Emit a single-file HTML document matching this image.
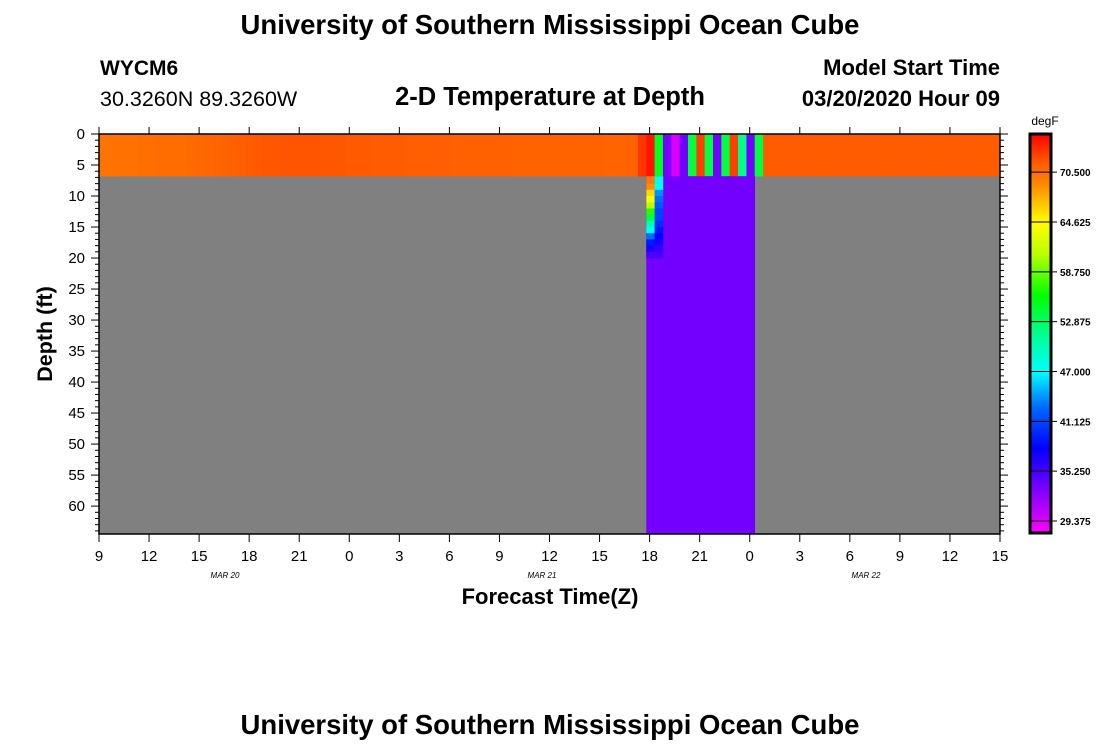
<!DOCTYPE html>
<html><head><meta charset="utf-8"><style>
html,body{margin:0;padding:0;background:#fff;width:1100px;height:750px;overflow:hidden}
svg text{font-family:"Liberation Sans",Arial,sans-serif}
</style></head><body>
<svg id="chart" width="1100" height="750" viewBox="0 0 1100 750" xmlns="http://www.w3.org/2000/svg">
<text x="550" y="34" text-anchor="middle" font-size="27.5" font-weight="bold">University of Southern Mississippi Ocean Cube</text>
<text x="100" y="75" font-size="21" font-weight="bold">WYCM6</text>
<text x="100" y="106" font-size="21.5">30.3260N 89.3260W</text>
<text x="550" y="105" text-anchor="middle" font-size="25.5" font-weight="bold">2-D Temperature at Depth</text>
<text x="1000" y="75" text-anchor="end" font-size="22" font-weight="bold">Model Start Time</text>
<text x="1000" y="106" text-anchor="end" font-size="22" font-weight="bold">03/20/2020 Hour 09</text>
<g id="cells"></g>
<g id="axes"></g>
<text transform="translate(52,334) rotate(-90)" text-anchor="middle" font-size="21.5" font-weight="bold">Depth (ft)</text>
<text x="550" y="604" text-anchor="middle" font-size="22" font-weight="bold">Forecast Time(Z)</text>
<text x="225" y="578" text-anchor="middle" font-size="8" font-style="italic" font-family="Liberation Serif">MAR  20</text>
<text x="542" y="578" text-anchor="middle" font-size="8" font-style="italic" font-family="Liberation Serif">MAR  21</text>
<text x="866" y="578" text-anchor="middle" font-size="8" font-style="italic" font-family="Liberation Serif">MAR  22</text>
<g id="cbar"></g>
<text x="1045" y="125" text-anchor="middle" font-size="12">degF</text>
<text x="550" y="734" text-anchor="middle" font-size="27.5" font-weight="bold">University of Southern Mississippi Ocean Cube</text>
</svg>
<script>
const xTickLabels=["9","12","15","18","21","0","3","6","9","12","15","18","21","0","3","6","9","12","15"];
const yTickLabels=[0,5,10,15,20,25,30,35,40,45,50,55,60];
const cbarLabels=[70.5,64.625,58.75,52.875,47.0,41.125,35.25,29.375];
// surface layer temperature per half-hour column
const surfaceTemps=[70.4,70.4,70.4,70.5,70.5,70.6,70.6,70.7,70.7,70.8,70.8,70.9,71.0,71.1,71.2,71.3,71.4,71.5,71.6,71.7,71.8,71.8,71.9,71.9,71.9,71.9,71.9,71.8,71.8,71.8,71.7,71.7,71.7,71.6,71.6,71.6,71.6,71.5,71.5,71.5,71.5,71.5,71.5,71.4,71.4,71.4,71.4,71.4,71.4,71.4,71.3,71.3,71.3,71.3,71.3,71.3,71.3,71.3,71.3,71.3,71.3,71.2,71.2,71.2,71.2,73.0,74.2,55.0,33.5,29.5,33.5,54.0,72.6,54.0,33.5,54.0,72.6,51.5,33.5,54.0,71.6,71.6,71.6,71.6,71.6,71.6,71.6,71.6,71.6,71.6,71.6,71.6,71.6,71.6,71.6,71.6,71.6,71.6,71.6,71.6,71.6,71.6,71.6,71.6,71.6,71.6,71.6,71.6,71.6];
const wetCols=[66,67,68,69,70,71,72,73,74,75,76,77,78];
const deepTemp=33.5;
const profileDepths=[7,8,9,10,11,12,13,14,15,16,17,18,19];
const profileCol66=[70,69,66,64,61,57,54,50,47,43,39,37,35];
const profileCol67=[48,47,44,43,42,41,41,40,39,38,37,36,35];
const surfaceDepth=6.8, maxDepth=64.5, hours=54, colStart=0.3, colW=0.5;

const NS="http://www.w3.org/2000/svg";
const X0=99,X1=1000,Y0=134,Y1=534;
const xs=h=>X0+h*(X1-X0)/hours;
const ys=d=>Y0+d*(Y1-Y0)/maxDepth;
const stops=[[28,[255,0,255]],[33,[128,0,255]],[38,[0,0,255]],[43,[0,110,255]],[47,[0,255,255]],[52,[0,255,128]],[56,[0,255,0]],[61,[190,255,0]],[64.6,[255,255,0]],[69,[255,140,0]],[71.5,[255,95,0]],[75,[255,0,0]]];
function col(t){if(t<=stops[0][0])return rgb(stops[0][1]);for(let i=1;i<stops.length;i++){if(t<=stops[i][0]){const a=stops[i-1],b=stops[i],f=(t-a[0])/(b[0]-a[0]);return rgb(a[1].map((v,k)=>v+(b[1][k]-v)*f));}}return rgb(stops[stops.length-1][1]);}
function rgb(c){return "rgb("+c.map(Math.round).join(",")+")";}
function mk(tag,attrs,parent){const e=document.createElementNS(NS,tag);for(const k in attrs)e.setAttribute(k,attrs[k]);parent.appendChild(e);return e;}
const cells=document.getElementById("cells");
let r=mk("rect",{x:X0,y:Y0,width:X1-X0,height:Y1-Y0,fill:"#808080"},cells);


function cell(h0,h1,d0,d1,t){
  const a=Math.max(X0,xs(h0)),b=Math.min(X1,xs(h1));if(b<=a)return;
  const e=mk("rect",{x:a,y:ys(d0),width:b-a+0.3,height:ys(d1)-ys(d0)+0.3,fill:col(t)},cells);
  
  
}
surfaceTemps.forEach((t,i)=>cell(colStart+(i-1)*colW,colStart+i*colW,0,surfaceDepth,t));
wetCols.forEach(c=>cell(colStart+(c-1)*colW,colStart+c*colW,surfaceDepth,maxDepth,deepTemp));
profileDepths.forEach((d,i)=>{
  const d0=i===0?surfaceDepth:d, d1=d+1;
  cell(colStart+65*colW,colStart+66*colW,d0,d1,profileCol66[i]);
  cell(colStart+66*colW,colStart+67*colW,d0,d1,profileCol67[i]);
});
const ax=document.getElementById("axes");
mk("rect",{x:X0,y:Y0,width:X1-X0,height:Y1-Y0,fill:"none",stroke:"#000","stroke-width":1.5},ax);
for(let h=0;h<=hours;h+=3){
  const x=xs(h);
  mk("line",{x1:x,y1:Y0,x2:x,y2:Y0-7,stroke:"#000"},ax);mk("line",{x1:x,y1:Y1,x2:x,y2:Y1+8,stroke:"#000"},ax);
}
xTickLabels.forEach((l,i)=>{const t=mk("text",{x:xs(i*3),y:561,"text-anchor":"middle","font-size":15},ax);t.textContent=l;

});
for(let d=0;d<=64;d++){
  const y=ys(d),len=d%5===0?8:4;
  mk("line",{x1:X0,y1:y,x2:X0-len,y2:y,stroke:"#000"},ax);
  mk("line",{x1:X1,y1:y,x2:X1+len,y2:y,stroke:"#000"},ax);
}
yTickLabels.forEach(d=>{const t=mk("text",{x:85,y:ys(d)+5,"text-anchor":"end","font-size":15},ax);t.textContent=d;

});
const cb=document.getElementById("cbar");
const CT=75.0,CB=27.96,BY0=134,BY1=533,BX=1030,BW=21;
const cy=t=>BY0+(CT-t)*(BY1-BY0)/(CT-CB);
for(let y=BY0;y<BY1;y++){const t=CT-(y-BY0)*(CT-CB)/(BY1-BY0);mk("rect",{x:BX,y:y,width:BW,height:1.2,fill:col(t)},cb);}
mk("rect",{x:BX,y:BY0,width:BW,height:BY1-BY0,fill:"none",stroke:"#000","stroke-width":3},cb);
cbarLabels.forEach(v=>{const y=cy(v);mk("line",{x1:BX,y1:y,x2:BX+BW+6,y2:y,stroke:"#000"},cb);
const t=mk("text",{x:1060,y:y+4,"font-size":10,"font-weight":"bold"},cb);t.textContent=v.toFixed(3);

});
</script>
</body></html>
